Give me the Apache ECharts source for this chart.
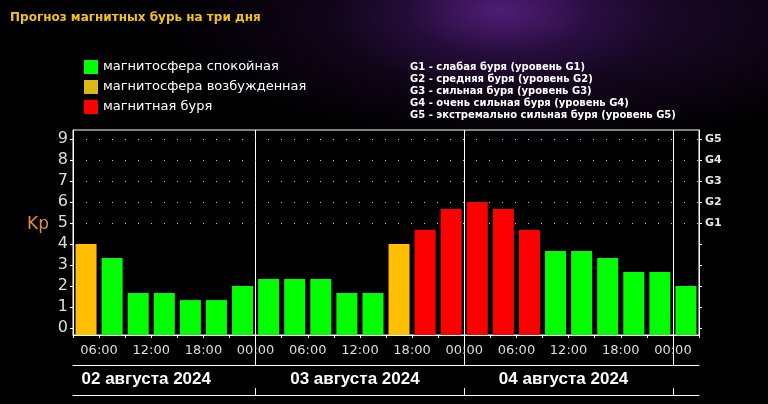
<!DOCTYPE html>
<html><head><meta charset="utf-8">
<script src="https://cdn.jsdelivr.net/npm/echarts@6/dist/echarts.min.js"></script>
<style>
html,body{margin:0;padding:0;}
body{width:768px;height:404px;overflow:hidden;
background:
 radial-gradient(ellipse 170px 80px at 500px 10px, rgba(95,35,140,0.75), rgba(60,20,95,0.35) 55%, rgba(0,0,0,0) 100%),
 radial-gradient(ellipse 380px 125px at 540px 20px, rgba(55,18,85,0.65), rgba(0,0,0,0) 100%),
 #000;}
#c{width:768px;height:404px;}
</style></head>
<body><div id="c"></div>
<script>
// ---- data ----
const TITLE = 'Прогноз магнитных бурь на три дня';
const LEGEND_LABELS = ['магнитосфера спокойная', 'магнитосфера возбужденная', 'магнитная буря'];
const LEGEND_COLORS = ['#00ff00', '#dcb817', '#ff0000'];
const G_LEGEND = [
  'G1 - слабая буря (уровень G1)',
  'G2 - средняя буря (уровень G2)',
  'G3 - сильная буря (уровень G3)',
  'G4 - очень сильная буря (уровень G4)',
  'G5 - экстремально сильная буря (уровень G5)'
];
// start hour of each 3-hour slot, counted from 02 Aug 00:00
const SLOT_START = [3,6,9,12,15,18,21,24,27,30,33,36,39,42,45,48,51,54,57,60,63,66,69,72];
const KP = [4, 3.33, 1.67, 1.67, 1.33, 1.33, 2,
            2.33, 2.33, 2.33, 1.67, 1.67, 4, 4.67, 5.67,
            6, 5.67, 4.67, 3.67, 3.67, 3.33, 2.67, 2.67,
            2];
const DATES = ['02 августа 2024', '03 августа 2024', '04 августа 2024'];
const DAY_MID = [12, 36, 60];
const DAY_BOUNDS = [24, 48, 72];
const Y_TICKS = [0,1,2,3,4,5,6,7,8,9];
const GRID_DOT_LEVELS = [5,6,7,8,9];
const G_TICKS = [5,6,7,8,9];
const G_LABELS = ['G1','G2','G3','G4','G5'];
const BAR_COLORS = {quiet: '#00ff00', active: '#ffbf00', storm: '#ff0000'};

function status(v){ return v >= 4.5 ? 'storm' : (v >= 4 ? 'active' : 'quiet'); }
function pad(n){ return (n < 10 ? '0' : '') + n; }

const Y_MIN = -1/3, Y_MAX = 9.43;
const X_MIN = 3, X_MAX = 75;
const FONT = 'DejaVu Sans';

const chart = echarts.init(document.getElementById('c'), null, {renderer: 'canvas'});

const barData = SLOT_START.map((s, i) => ({
  value: [s + 1.5, KP[i]],
  itemStyle: {color: BAR_COLORS[status(KP[i])]}
}));

const markData = GRID_DOT_LEVELS.map(l => ({yAxis: l, lineStyle: {color: '#c8c8c8', width: 1, type: [1, 12]}}));

const series = [{
  type: 'bar',
  name: 'kp',
  data: barData,
  barWidth: 21,
  startValue: Y_MIN,
  silent: true,
  z: 3,
  markLine: {
    silent: true,
    symbol: ['none', 'none'],
    label: {show: false},
    z: 1,
    data: markData
  }
}].concat(LEGEND_LABELS.map((n, i) => ({
  type: 'line', name: n, data: [], color: LEGEND_COLORS[i],
  itemStyle: {color: LEGEND_COLORS[i]}, lineStyle: {color: LEGEND_COLORS[i]}
})));

const WHITE_LINE = {show: true, onZero: false, lineStyle: {color: '#ffffff'}};

const option = {
  animation: false,
  backgroundColor: 'transparent',
  title: {
    text: TITLE, left: 5, top: 7,
    textStyle: {color: '#f2c21a', fontFamily: FONT, fontWeight: 'bold', fontSize: 12}
  },
  legend: {
    data: LEGEND_LABELS, orient: 'vertical', left: 79, top: 55,
    itemWidth: 14, itemHeight: 14, itemGap: 6,
    icon: 'rect', selectedMode: false,
    textStyle: {color: '#ffffff', fontFamily: FONT, fontSize: 13}
  },
  grid: {left: 73, right: 69, top: 130, bottom: 69, show: true, borderColor: '#ffffff', borderWidth: 1, containLabel: false},
  xAxis: [{
    type: 'value', min: X_MIN, max: X_MAX, interval: 3,
    axisLine: WHITE_LINE,
    axisTick: {show: true, length: 3, lineStyle: {color: '#ffffff'}},
    splitLine: {show: false},
    axisLabel: {
      color: '#dddddd', fontFamily: FONT, fontSize: 13, margin: 9, hideOverlap: false,
      formatter: v => (v % 6 === 0) ? pad(v % 24) + ':00' : ''
    }
  }, {
    type: 'value', min: X_MIN, max: X_MAX, position: 'bottom', offset: 30,
    axisLine: WHITE_LINE,
    axisTick: {show: true, inside: true, length: 235, customValues: DAY_BOUNDS, lineStyle: {color: '#ffffff'}},
    splitLine: {show: false},
    axisLabel: {
      customValues: DAY_MID, color: '#ffffff', fontFamily: 'Liberation Sans', fontWeight: 'bold', fontSize: 17, margin: 6,
      padding: [0, 10, 0, 0],
      formatter: v => DATES[DAY_MID.indexOf(v)]
    }
  }, {
    type: 'value', min: X_MIN, max: X_MAX, position: 'bottom', offset: 60,
    axisLine: WHITE_LINE,
    axisTick: {show: true, inside: true, length: 7, customValues: DAY_BOUNDS, lineStyle: {color: '#ffffff'}},
    splitLine: {show: false},
    axisLabel: {show: false}
  }],
  yAxis: [{
    type: 'value', min: Y_MIN, max: Y_MAX, startValue: Y_MIN,
    axisLine: WHITE_LINE,
    axisTick: {show: true, length: 3, customValues: Y_TICKS, lineStyle: {color: '#ffffff'}},
    splitLine: {show: false},
    axisLabel: {customValues: Y_TICKS, color: '#dddddd', fontFamily: FONT, fontSize: 16, margin: 5}
  }, {
    type: 'value', min: Y_MIN, max: Y_MAX, position: 'right', startValue: Y_MIN,
    axisLine: WHITE_LINE,
    axisTick: {show: true, length: 3, customValues: Y_TICKS, lineStyle: {color: '#ffffff'}},
    splitLine: {show: false},
    axisLabel: {customValues: G_TICKS, color: '#e8e8e8', fontFamily: FONT, fontWeight: 'bold', fontSize: 11, margin: 6,
      formatter: v => G_LABELS[G_TICKS.indexOf(v)]}
  }],
  series: series,
  graphic: [{
    type: 'text', left: 27, top: 216,
    style: {text: 'Kp', fill: '#e0903c', font: '17px "DejaVu Sans"'}
  }, {
    type: 'text', left: 410, top: 61,
    style: {text: G_LEGEND.join('\n'), fill: '#ffffff', font: 'bold 10px "DejaVu Sans"', lineHeight: 12}
  }]
};
chart.setOption(option);
</script>
</body></html>
